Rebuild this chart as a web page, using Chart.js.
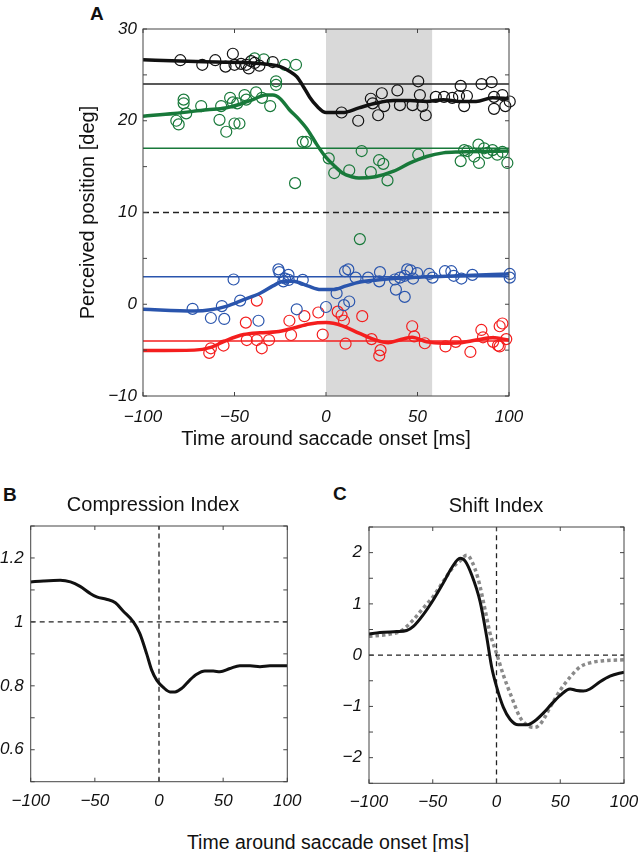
<!DOCTYPE html>
<html>
<head>
<meta charset="utf-8">
<script src="https://cdn.jsdelivr.net/npm/chart.js@4.4.1/dist/chart.umd.min.js"></script>
<style>
  body { margin: 0; width: 638px; height: 852px; overflow: hidden; background: #fff; font-family: 'Liberation Sans', Arial, sans-serif; }
  canvas { position: absolute; }
  .lab { position: absolute; font-weight: bold; font-size: 19px; line-height: 24px; color: #111; }
  #xlab { position: absolute; left: 0; width: 656px; top: 830px; text-align: center; font-size: 19.5px; line-height: 24px; color: #111; }
</style>
</head>
<body>
<div class="lab" style="left:90px;top:2px">A</div>
<div class="lab" style="left:3px;top:483px">B</div>
<div class="lab" style="left:333px;top:482px">C</div>
<canvas id="grafA" style="left:0;top:0"></canvas>
<canvas id="grafB" style="left:0;top:480px"></canvas>
<canvas id="grafC" style="left:338px;top:480px"></canvas>
<div id="xlab">Time around saccade onset [ms]</div>
<script>
// ---- données : [temps ms, valeur] ----
// panneau A, points (cercles)
const blackPts = [[-79.6,26.6],[-67.6,26.1],[-60.5,26.6],[-54.9,25.9],[-50.9,27.3],[-50,26.1],[-46.4,26.2],[-43.6,26.1],[-42.2,25.7],[-40.9,26.5],[-39,26.3],[-36.4,26.0],[-29.1,26.4],
  [8.5,20.9],[17.6,20.0],[24.5,22.4],[25.5,21.9],[28.5,20.6],[30.5,23.0],[31.8,21.6],[39,23.3],[40.4,21.7],[47.3,21.7],[50.4,24.3],[51.3,22.8],[52.7,21.6],[54.5,20.6],
  [60,22.6],[64.5,22.6],[69,22.5],[73.6,23.8],[72.7,22.7],[75.5,21.6],[77,22.7],[85,24.0],[90.5,24.2],[91.8,22.6],[91.8,21.3],[96.4,22.8],[98,21.6],[100.4,22.1]];
const greenPts = [[-81.8,20.0],[-80.5,19.6],[-77.8,22.3],[-77.8,21.9],[-76.4,20.8],[-68.2,21.6],[-58.2,20.1],[-57.3,21.6],[-54.5,18.8],[-52.4,22.5],[-50.9,22.0],[-50,19.7],[-47.3,19.7],
  [-48.5,21.9],[-44.5,22.8],[-43.6,22.3],[-38.2,23.1],[-39,26.8],[-35,22.5],[-34,26.7],[-30.5,21.6],[-27.3,24.3],[-27.3,23.9],[-22.5,26.1],[-16.4,26.1],[-16.9,13.2],
  [-12.7,17.7],[-10.9,17.7],[1.5,15.9],[4.5,14.3],[12.7,14.6],[19.5,16.7],[24.5,14.4],[29,15.7],[31.3,15.3],[33.6,13.5],[18.5,7.1],[50.4,16.3],[73.6,15.6],[75.5,16.8],
  [77.3,16.7],[81,16.1],[83.6,15.4],[83.3,17.4],[86.4,17.0],[88.2,16.5],[91,16.8],[93.6,16.3],[96.4,16.6],[99.1,15.4]];
const bluePts = [[-72.9,-0.5],[-62.9,-1.5],[-56.9,-0.2],[-55.6,-1.6],[-50.5,2.7],[-46.9,0.4],[-36.9,-1.8],[-26,3.8],[-25.5,3.5],[-23.3,2.5],[-22.4,2.8],[-20.5,3.2],[-20.4,2.65],
  [-12.7,2.65],[-16,-0.55],[0,-0.3],[5.8,1.2],[10.4,3.6],[12.2,3.8],[16.2,2.9],[9.8,-0.1],[12.7,0.3],[23,2.9],[29.5,3.5],[29.1,2.5],[37.6,2.7],[38.2,1.6],[43,0.8],[40.4,2.9],
  [43,3.1],[44.4,3.8],[46.2,3.7],[47.6,2.8],[49.8,3.4],[56.4,3.3],[58.2,2.9],[65,3.6],[68.5,3.6],[69.8,3.1],[74,2.8],[80,3.2],[100.4,3.3],[100.4,2.9]];
const redPts = [[-63.8,-5.3],[-62.9,-4.8],[-56,-4.5],[-43.8,-2.0],[-43.3,-3.9],[-37.8,0.4],[-37.8,-3.9],[-35.1,-4.8],[-31.1,-3.9],[-20,-1.8],[-19.1,-3.35],[-11.8,-1.3],[-4.2,-0.9],
  [-1.8,-3.3],[6.4,-0.8],[8.5,-1.2],[9.8,-1.8],[10.7,-4.3],[19.8,-1.3],[24.9,-3.8],[29.8,-5.0],[29.1,-5.6],[47.1,-2.4],[48.2,-3.5],[54,-4.25],[65.3,-4.6],[70.9,-4.1],
  [78.9,-5.2],[84.9,-2.8],[85.8,-3.6],[91.3,-4.1],[94,-4.5],[94.9,-4.6],[94.9,-2.4],[96.4,-2.1],[98.5,-3.8]];

// panneau A, courbes lissées
const blackFit = [[-100,26.65],[-80,26.5],[-60,26.4],[-40,26.3],[-30,26.1],[-25,25.9],[-20,25.4],[-16,24.8],[-12,23.6],[-9,22.6],[-5,21.6],[0,20.9],[9,20.9],[18,21.4],[27,21.9],
  [37,22.2],[46,22.2],[55,22.1],[64,22.3],[73,22.1],[82,22.1],[91,22.5],[100,22.4]];
const greenFit = [[-100,20.5],[-83,20.8],[-65,21.2],[-55,21.4],[-47,21.8],[-40,22.3],[-33,22.8],[-29,22.8],[-25,22.4],[-20,21.2],[-15,20.2],[-10,19.0],[-5,17.4],[0,16.0],[5,15.0],
  [9,14.3],[14,13.9],[18,13.75],[27,13.9],[37,14.5],[46,15.4],[55,16.1],[64,16.5],[73,16.6],[100,16.7]];
const blueFit = [[-100,-0.55],[-72,-0.73],[-63,-0.6],[-54,-0.2],[-45,0.5],[-36,1.2],[-29,2.0],[-23,2.5],[-18,2.5],[-10,2.0],[-3,1.6],[4,1.6],[11,2.0],[18,2.4],[28,2.65],
  [37,2.8],[46,2.9],[55,3.0],[73,3.1],[100,3.3]];
const redFit = [[-100,-5.05],[-72,-5.0],[-63,-4.7],[-54,-3.9],[-45,-3.3],[-36,-3.1],[-27,-3.0],[-18,-2.6],[-9,-2.15],[0,-2.0],[9,-2.35],[18,-3.15],[27,-3.9],[34,-4.2],
  [40,-3.9],[47,-3.6],[55,-4.1],[64,-4.25],[73,-4.2],[82,-3.9],[91,-3.65],[100,-3.9]];

// lignes de référence (positions réelles) et fenêtre grise
const refBlack = 24, refGreen = 17, refBlue = 3, refRed = -4, fixation = 10;
const saccadeWindow = [0, 58];

// panneau B
const compression = [[-100,1.125],[-90,1.128],[-77,1.13],[-69,1.125],[-61.5,1.111],[-54,1.09],[-48.6,1.078],[-41,1.071],[-34,1.06],[-28,1.034],[-20,1.0],[-15,0.964],
  [-9.6,0.90],[-5.7,0.849],[-1.8,0.818],[3.4,0.795],[8.6,0.781],[12.5,0.781],[17.7,0.792],[24,0.818],[29.4,0.836],[35.8,0.846],[42.3,0.846],[47.5,0.844],[55.3,0.854],
  [63,0.863],[71,0.863],[78.7,0.86],[86.5,0.863],[100,0.863]];

// panneau C
const shift = [[-100,0.41],[-91.4,0.44],[-78.4,0.46],[-70.5,0.48],[-65.2,0.56],[-57.4,0.79],[-49.5,1.08],[-41.7,1.41],[-35.2,1.70],[-28.6,1.89],[-24.7,1.84],[-19.5,1.57],
  [-12.9,1.05],[-7.7,0.36],[-3.8,-0.23],[0.1,-0.62],[5.4,-1.02],[10.6,-1.25],[17.1,-1.36],[23.7,-1.36],[30.2,-1.28],[36.7,-1.13],[43.3,-0.95],[49.8,-0.79],[57.7,-0.66],
  [62.9,-0.69],[68.1,-0.70],[73.3,-0.66],[81.2,-0.52],[89,-0.41],[100,-0.33]];
const shiftModel = [[-100,0.37],[-83.5,0.41],[-74.4,0.48],[-65.2,0.69],[-57.4,0.92],[-49.5,1.15],[-41.7,1.44],[-33.9,1.72],[-28.6,1.84],[-23.4,1.95],[-19.5,1.84],[-14.3,1.48],
  [-9.0,0.89],[-5.1,0.43],[0.1,0.03],[5.4,-0.39],[11.9,-0.82],[18.4,-1.21],[25,-1.38],[30.2,-1.41],[35.4,-1.31],[42,-1.02],[49.8,-0.69],[57.7,-0.43],[65.5,-0.23],
  [73.3,-0.15],[83.8,-0.11],[100,-0.09]];

const xy = arr => arr.map(([x, y]) => ({x, y}));
const moins = v => (v < 0 ? '\u2212' : '') + Math.abs(v);

// cadre, graduations vers l'intérieur, zone grise
const cadre = {
  id: 'cadre',
  beforeDatasetsDraw(chart, args, opts) {
    if (!opts.shade) return;
    const {ctx, chartArea: a, scales: {x}} = chart;
    const x0 = x.getPixelForValue(opts.shade[0]), x1 = x.getPixelForValue(opts.shade[1]);
    ctx.save();
    ctx.fillStyle = '#d9d9d9';
    ctx.fillRect(x0, a.top, x1 - x0, a.bottom - a.top);
    ctx.restore();
  },
  afterDraw(chart) {
    const {ctx, chartArea: a, scales: {x, y}} = chart;
    ctx.save();
    ctx.strokeStyle = '#444';
    ctx.lineWidth = 1;
    ctx.beginPath();
    x.ticks.forEach(t => {
      const p = x.getPixelForValue(t.value);
      ctx.moveTo(p, a.bottom); ctx.lineTo(p, a.bottom - 4);
      ctx.moveTo(p, a.top); ctx.lineTo(p, a.top + 4);
    });
    y.ticks.forEach(t => {
      const p = y.getPixelForValue(t.value);
      ctx.moveTo(a.left, p); ctx.lineTo(a.left + 4, p);
      ctx.moveTo(a.right, p); ctx.lineTo(a.right - 4, p);
    });
    ctx.stroke();
    ctx.strokeRect(a.left, a.top, a.right - a.left, a.bottom - a.top);
    ctx.restore();
  }
};

const tickFont = {family: 'Liberation Sans', size: 17, style: 'italic'};
const titleFont = {family: 'Liberation Sans', size: 20, weight: 'normal'};

// axe x : on garde la longueur de graduation (invisible) pour décaler les étiquettes vers le bas
function echelle(axe, min, max, step, label, size, pad) {
  return {
    min: min, max: max,
    grid: {display: false, drawTicks: axe === 'x'},
    border: {display: false},
    ticks: {stepSize: step, callback: label, font: tickFont, color: '#111', padding: pad, maxRotation: 0, autoSkip: false},
    afterFit: s => { if (s.isHorizontal()) s.height = size; else s.width = size; }
  };
}
// axe vide à droite : ne sert qu'à centrer le titre comme sur la figure
function vide(size) {
  return {position: 'right', grid: {display: false, drawTicks: false}, border: {display: false}, ticks: {display: false},
    afterFit: s => { s.width = size; }};
}

function courbe(data, color, width, dash) {
  return {data: xy(data), showLine: true, borderColor: color, borderWidth: width, borderDash: dash || [],
    pointRadius: 0, cubicInterpolationMode: 'monotone', fill: false};
}
function points(data, color) {
  return {data: xy(data), showLine: false, pointRadius: 5.5, pointBorderWidth: 1.2, pointBorderColor: color,
    pointBackgroundColor: 'rgba(0,0,0,0)', clip: 10};
}

const cA = document.getElementById('grafA');
cA.width = 530; cA.height = 451;
const cB = document.getElementById('grafB');
cB.width = 306; cB.height = 340;
const cC = document.getElementById('grafC');
cC.width = 316; cC.height = 340;

const base = {responsive: false, animation: false, events: [],
  plugins: {legend: {display: false}, tooltip: {enabled: false}}};

//graphique A
new Chart(cA, {
  type: 'scatter',
  data: {datasets: [
    courbe(blackFit, '#111', 3.5), courbe(greenFit, '#18793a', 3.5), courbe(blueFit, '#2a55ad', 3.5), courbe(redFit, '#f41e1e', 3.5),
    points(blackPts, '#111'), points(greenPts, '#18793a'), points(bluePts, '#2a55ad'), points(redPts, '#f41e1e'),
    courbe([[-100, refBlack], [100, refBlack]], '#222', 1.5), courbe([[-100, refGreen], [100, refGreen]], '#18793a', 1.5),
    courbe([[-100, refBlue], [100, refBlue]], '#2a55ad', 1.5), courbe([[-100, refRed], [100, refRed]], '#f41e1e', 1.5),
    courbe([[-100, fixation], [100, fixation]], '#222', 1.5, [6, 4])
  ]},
  options: {...base,
    layout: {autoPadding: false, padding: {left: 76, right: 21, top: 29, bottom: 0}},
    plugins: {...base.plugins, cadre: {shade: saccadeWindow}},
    scales: {
      x: {...echelle('x', -100, 100, 50, v => moins(v), 55, 3),
        title: {display: true, text: 'Time around saccade onset [ms]', font: titleFont, color: '#111', padding: 0}},
      y: {...echelle('y', -10, 30, 5, v => v % 10 === 0 ? moins(v) : '', 67, 6),
        title: {display: true, text: 'Perceived position [deg]', font: titleFont, color: '#111', padding: 0}}
    }
  },
  plugins: [cadre]
});

//graphique B
new Chart(cB, {
  type: 'scatter',
  data: {datasets: [
    courbe(compression, '#111', 3),
    courbe([[-100, 1], [100, 1]], '#222', 1.3, [5, 4]),
    courbe([[0, 0.5], [0, 1.3]], '#222', 1.3, [5, 4])
  ]},
  options: {...base,
    layout: {autoPadding: false, padding: 0},
    plugins: {...base.plugins, title: {display: true, text: 'Compression Index', font: titleFont, color: '#111', padding: {top: 13, bottom: 9}}},
    scales: {
      x: echelle('x', -100, 100, 50, v => moins(v), 38.3, 1),
      y: echelle('y', 0.5, 1.3, 0.1, v => { const r = Math.round(v * 10); return r % 2 === 0 ? moins(r / 10) : ''; }, 30.7, 7),
      y2: vide(18.7)
    }
  },
  plugins: [cadre]
});

//graphique C
new Chart(cC, {
  type: 'scatter',
  data: {datasets: [
    courbe(shift, '#111', 3),
    courbe(shiftModel, '#8a8a8a', 3.5, [3.5, 3]),
    courbe([[-100, 0], [100, 0]], '#222', 1.3, [5, 4]),
    courbe([[0, -2.5], [0, 2.5]], '#222', 1.3, [5, 4])
  ]},
  options: {...base,
    layout: {autoPadding: false, padding: 0},
    plugins: {...base.plugins, title: {display: true, text: 'Shift Index', font: titleFont, color: '#111', padding: {top: 14, bottom: 9}}},
    scales: {
      x: echelle('x', -100, 100, 50, v => moins(v), 36.7, 1),
      y: echelle('y', -2.5, 2.5, 0.5, v => { const r = Math.round(v * 2); return r % 2 === 0 ? moins(r / 2) : ''; }, 31, 7),
      y2: vide(30)
    }
  },
  plugins: [cadre]
});
</script>
</body>
</html>
